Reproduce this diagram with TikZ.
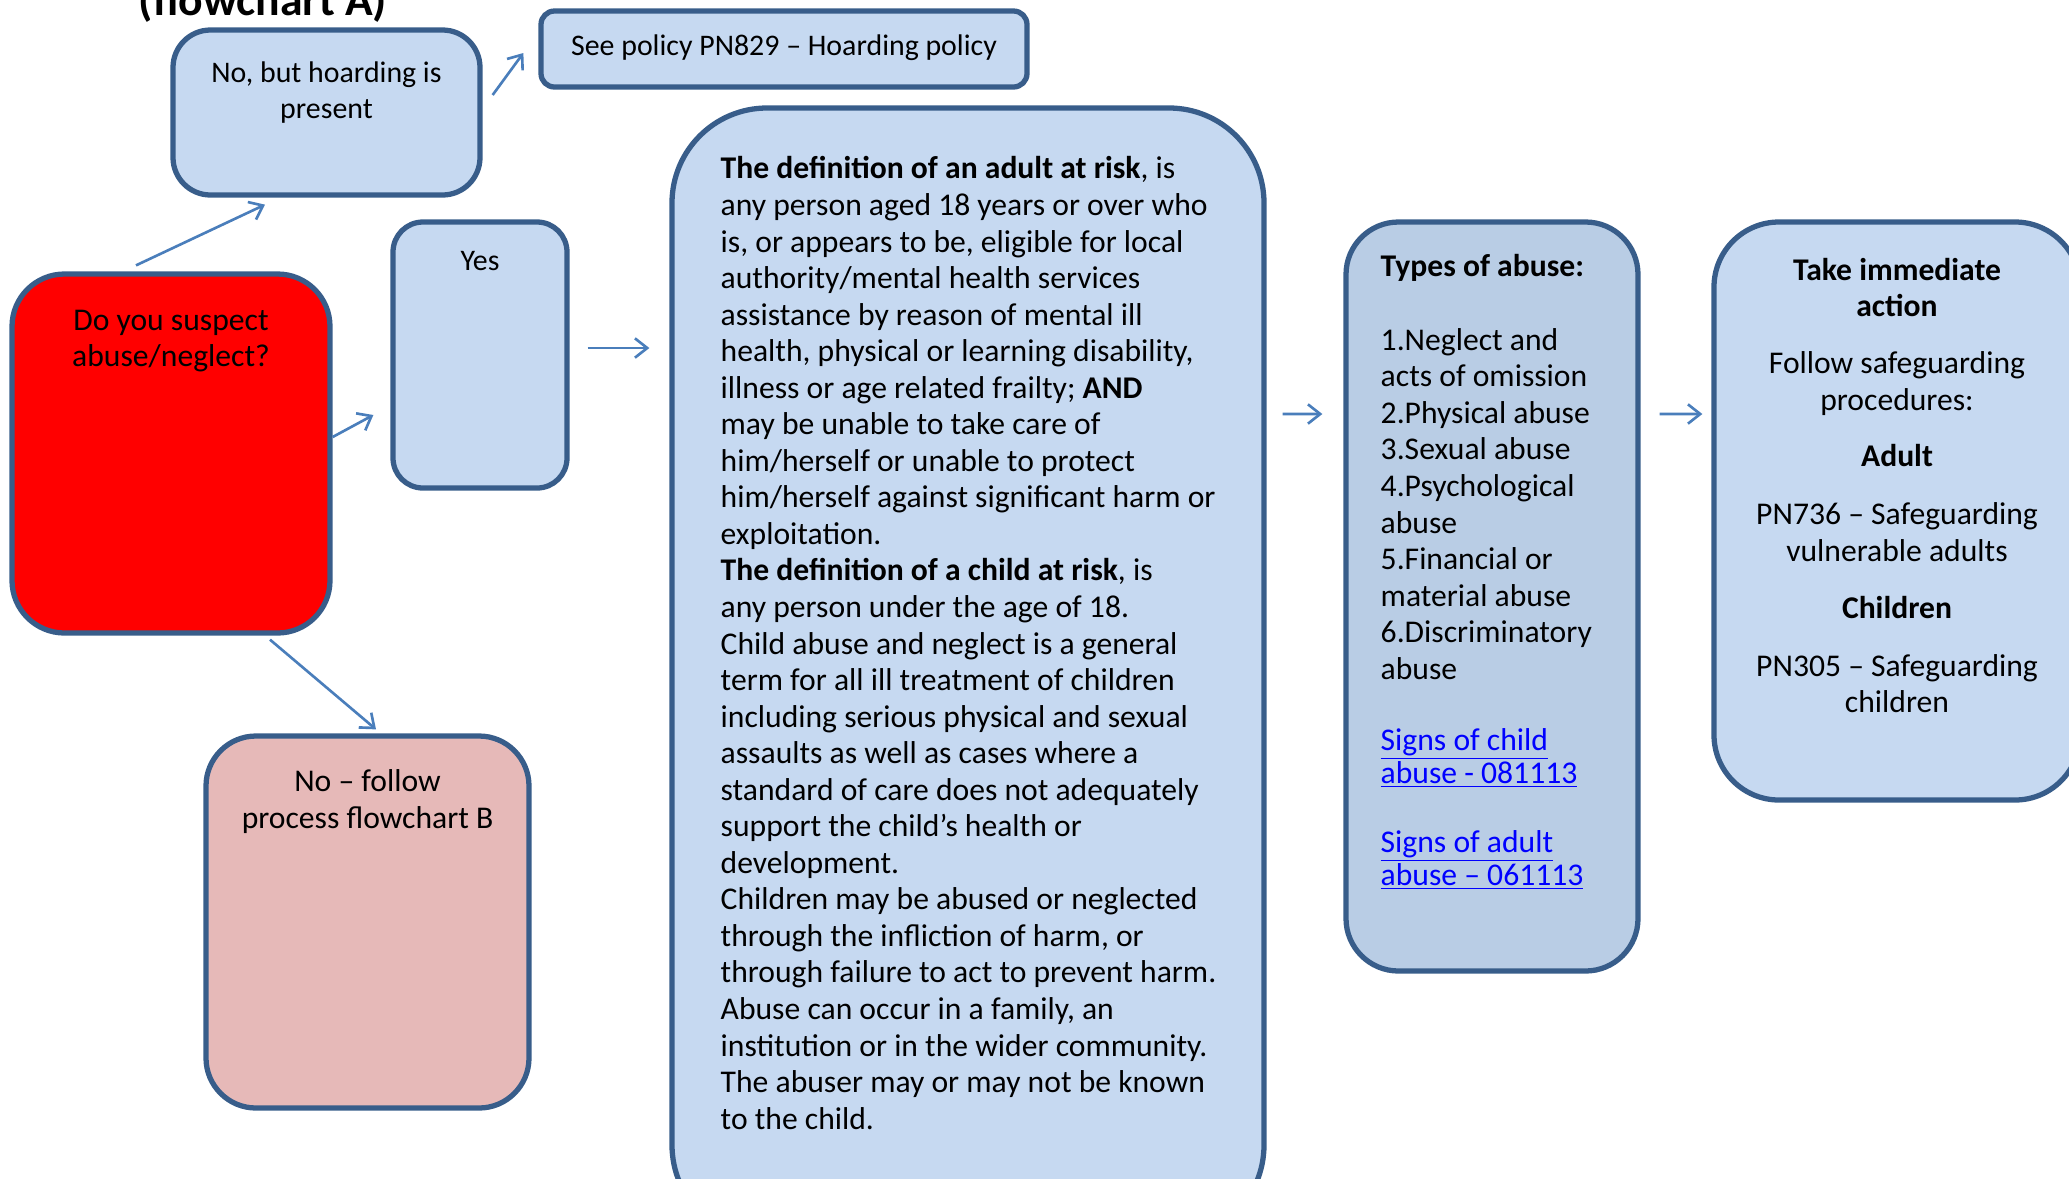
\documentclass[tikz,border=0pt]{standalone}
\usepackage{fontspec}
\setmainfont{Carlito}
\usepackage{xcolor}
\usetikzlibrary{arrows.meta,positioning,fit}
\definecolor{BoxLine}{RGB}{56,93,138}
\definecolor{BoxFill}{RGB}{198,217,241}
\definecolor{TypeFill}{RGB}{185,205,229}
\definecolor{NoFill}{RGB}{230,185,184}
\definecolor{ArrBlue}{RGB}{74,126,187}
\definecolor{LinkBlue}{RGB}{0,0,255}
\newcommand{\weblink}[1]{\textcolor{LinkBlue}{\underline{#1}}}

\begin{document}
\begin{tikzpicture}[x=0.02cm,y=-0.02cm,
        box/.style={draw=BoxLine,fill=BoxFill,line width=3pt,inner sep=0pt},
        rbox/.style={box,fill=red},
        pbox/.style={box,fill=NoFill},
        tbox/.style={box,fill=TypeFill},
        txt/.style={font=\fontsize{18}{20.8}\selectfont,inner sep=0pt,
                    align=center,anchor=north},
        stxt/.style={txt,font=\fontsize{17}{20.8}\selectfont},
        ltxt/.style={txt,align=left,anchor=north west},
        arr/.style={-{Straight Barb[length=7pt,width=11pt]},ArrBlue,line width=1.5pt}
      ]
        \useasboundingbox (0,0) rectangle (2069,1178);
        \node[txt,font=\bfseries\fontsize{26}{30}\selectfont,anchor=base] (title) at (263,15) {(flowchart A)};
        % boxes
        \node[box,fit={(173,30) (480,195)},rounded corners=0.75cm] (hoard) {};
        \node[box,fit={(541,11) (1027,87)},rounded corners=0.27cm] (policy) {};
        \node[box,fit={(672,108) (1264,1240)},rounded corners=1.9cm] (def) {};
        \node[box,fit={(393,222) (567,488)},rounded corners=0.6cm] (yes) {};
        \node[rbox,fit={(12,274) (330,633)},rounded corners=1.05cm] (ask) {};
        \node[pbox,fit={(206,736) (529,1108)},rounded corners=1cm] (no) {};
        \node[tbox,fit={(1346,222) (1638,971)},rounded corners=1.05cm] (types) {};
        \node[box,fit={(1714,222) (2080,800)},rounded corners=1.3cm] (act) {};
        % texts
        \node[stxt,below=19.1pt of hoard.north] (hoardT) {No, but hoarding is\\present};
        \node[stxt,anchor=center] (policyT) at ([shift={(0,-1)}]policy.center) {See policy PN829 – Hoarding policy};
        \node[stxt,below=18pt of yes.north] (yesT) {Yes};
        \node[txt,below=21.8pt of ask.north] (askT) {Do you suspect\\abuse/neglect?};
        \node[txt,below=20.6pt of no.north] (noT) {No – follow\\process flowchart B};
        \node[ltxt] (defT) at ([shift={(51,51)}]def.north west) {%
          \textbf{The definition of an adult at risk}, is\\
          any person aged 18 years or over who\\
          is, or appears to be, eligible for local\\
          authority/mental health services\\
          assistance by reason of mental ill\\
          health, physical or learning disability,\\
          illness or age related frailty; \textbf{AND}\\
          may be unable to take care of\\
          him/herself or unable to protect\\
          him/herself against significant harm or\\
          exploitation.\\
          \textbf{The definition of a child at risk}, is\\
          any person under the age of 18.\\
          Child abuse and neglect is a general\\
          term for all ill treatment of children\\
          including serious physical and sexual\\
          assaults as well as cases where a\\
          standard of care does not adequately\\
          support the child's health or\\
          development.\\
          Children may be abused or neglected\\
          through the infliction of harm, or\\
          through failure to act to prevent harm.\\
          Abuse can occur in a family, an\\
          institution or in the wider community.\\
          The abuser may or may not be known\\
          to the child.};
        \node[ltxt] (typesT) at ([shift={(37,35)}]types.north west) {%
          \textbf{Types of abuse:}\\[21pt]
          1.Neglect and\\
          acts of omission\\
          2.Physical abuse\\
          3.Sexual abuse\\
          4.Psychological\\
          abuse\\
          5.Financial or\\
          material abuse\\
          6.Discriminatory\\
          abuse\\[20pt]
          \weblink{Signs of child}\\[-2pt]
          \weblink{abuse - 081113}\\[18pt]
          \weblink{Signs of adult}\\[-2pt]
          \weblink{abuse – 061113}};
        \node[txt,below=21.9pt of act.north] (actT) {%
          \textbf{Take immediate}\\
          \textbf{action}\\[11.5pt]
          Follow safeguarding\\
          procedures:\\[11.5pt]
          \textbf{Adult}\\[12pt]
          PN736 – Safeguarding\\
          vulnerable adults\\[12pt]
          \textbf{Children}\\[12pt]
          PN305 – Safeguarding\\
          children};
        % connectors
        \draw[arr] ([shift={(-35,-6)}]ask.north) -- ([shift={(-61.5,7)}]hoard.south);
        \draw[arr] ([shift={(0,-16.5)}]ask.east) -- ([shift={(-17,60)}]yes.west);
        \draw[arr] ([shift={(99,4)}]ask.south) -- ([shift={(8.5,-4)}]no.north);
        \draw[arr] ([shift={(10,-17.5)}]hoard.east) -- ([shift={(-15,4)}]policy.west);
        \draw[arr] ([shift={(18,-7)}]yes.east) -- ([shift={(-20,-326)}]def.west);
        \draw[arr] ([shift={(16,-260)}]def.east) -- ([shift={(-21,-182.5)}]types.west);
        \draw[arr] ([shift={(19,-182.5)}]types.east) -- ([shift={(-9,-97)}]act.west);
      \end{tikzpicture}
\end{document}
